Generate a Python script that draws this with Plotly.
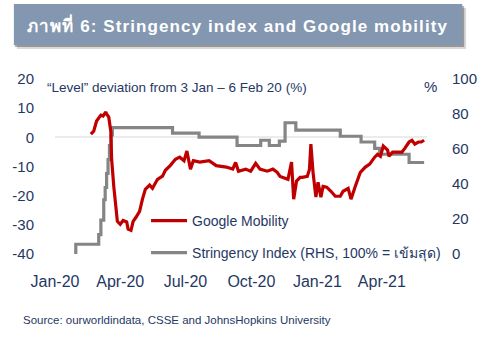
import plotly.graph_objects as go

# ---------------- data ----------------
mobility_dates = [
    "2020-02-20", "2020-02-24", "2020-02-28", "2020-03-05", "2020-03-08", "2020-03-12",
    "2020-03-13", "2020-03-16", "2020-03-19", "2020-03-20", "2020-03-23", "2020-03-26",
    "2020-03-28", "2020-04-01", "2020-04-05", "2020-04-10", "2020-04-12", "2020-04-16",
    "2020-04-19", "2020-04-23", "2020-04-28", "2020-05-02", "2020-05-06", "2020-05-12",
    "2020-05-16", "2020-05-23", "2020-05-30", "2020-06-03", "2020-06-10", "2020-06-17",
    "2020-06-23", "2020-06-29", "2020-07-03", "2020-07-08", "2020-07-12", "2020-07-21",
    "2020-08-03", "2020-08-13", "2020-08-27", "2020-09-05", "2020-09-09", "2020-09-13",
    "2020-09-23", "2020-09-30", "2020-10-07", "2020-10-13", "2020-10-23", "2020-10-31",
    "2020-11-06", "2020-11-10", "2020-11-14", "2020-11-21", "2020-11-26", "2020-11-29",
    "2020-12-03", "2020-12-08", "2020-12-11", "2020-12-18", "2020-12-21", "2020-12-23",
    "2020-12-26", "2020-12-30", "2021-01-02", "2021-01-06", "2021-01-09", "2021-01-14",
    "2021-01-20", "2021-01-26", "2021-02-02", "2021-02-06", "2021-02-13", "2021-02-17",
    "2021-02-23", "2021-03-02", "2021-03-09", "2021-03-15", "2021-03-22", "2021-03-26",
    "2021-03-30", "2021-04-03", "2021-04-09", "2021-04-11", "2021-04-16", "2021-04-22",
    "2021-04-29", "2021-05-03", "2021-05-09", "2021-05-13", "2021-05-17", "2021-05-22",
    "2021-05-26", "2021-05-30",
]
mobility_values = [
    1.1, 2.1, 5.6, 7.6, 7.3, 8.7,
    8.0, 6.9, 1.8, -7.5, -16.8, -24.7,
    -28.8, -29.8, -28.5, -29.0, -31.5, -31.9,
    -28.8, -27.4, -25.4, -21.2, -17.8, -16.4,
    -17.5, -14.4, -13.3, -11.3, -9.6, -7.5,
    -6.8, -8.0, -4.7, -10.9, -8.0, -8.5,
    -8.0, -9.7, -10.2, -10.9, -8.6, -11.6,
    -10.9, -11.6, -8.9, -10.9, -11.6, -10.9,
    -12.0, -13.4, -13.7, -14.4, -8.5, -21.2,
    -15.0, -13.7, -13.7, -13.4, -11.0, -2.3,
    -12.0, -20.5, -15.4, -20.5, -16.8, -17.1,
    -18.5, -20.2, -20.2, -18.5, -17.5, -21.2,
    -16.8, -12.0, -10.2, -9.2, -6.8, -5.8,
    -6.5, -3.0, -4.4, -6.5, -5.1, -5.1,
    -5.1, -3.8, -1.6, -1.0, -2.3, -1.6,
    -1.6, -1.0,
]

stringency_dates = [
    "2020-01-29", "2020-01-30", "2020-03-02", "2020-03-05", "2020-03-09", "2020-03-11",
    "2020-03-13", "2020-03-15", "2020-03-17", "2020-03-19", "2020-03-21", "2020-06-13",
    "2020-07-20", "2020-09-11", "2020-10-14", "2020-10-26", "2020-11-09", "2020-11-17",
    "2020-12-02", "2021-02-02", "2021-03-03", "2021-03-22", "2021-03-29", "2021-05-09",
    "2021-05-30",
]
stringency_values = [
    0.0, 5.56, 11.1, 19.4, 31.0, 38.0,
    46.0, 54.0, 62.0, 68.0, 72.2, 69.1,
    66.8, 62.0, 65.0, 62.0, 64.5, 75.0,
    70.8, 67.3, 64.0, 60.4, 57.0, 52.3,
    52.3,
]

left_tick_vals = [-40, -30, -20, -10, 0, 10, 20]
left_tick_text = ["-40", "-30", "-20", "-10", "0", "10", "20"]
right_tick_vals = [0, 20, 40, 60, 80, 100]

title_text = "ภาพที่ 6: Stringency index and Google mobility"
subtitle_text = "“Level” deviation from 3 Jan – 6 Feb 20 (%)"
source_text = "Source: ourworldindata, CSSE and JohnsHopkins University"
name_mobility = "Google Mobility"
name_stringency = "Stringency Index (RHS, 100% = เข้มสุด)"

# ---------------- figure ----------------
NAVY = "#1F3864"
FONT = "Liberation Sans, Arial, sans-serif"
W, H = 489, 357
ML, MR, MT, MB = 55, 54, 79, 103
PW, PH = W - ML - MR, H - MT - MB


def px(x):
    return (x - ML) / PW


def py(y):
    return (H - MB - y) / PH


fig = go.Figure()

fig.add_trace(go.Scatter(
    x=stringency_dates, y=stringency_values, name=name_stringency,
    mode="lines", line=dict(color="#858585", width=3.2, shape="hv"),
    yaxis="y", legend="legend2",
))
fig.add_trace(go.Scatter(
    x=mobility_dates, y=mobility_values, name=name_mobility,
    mode="lines", line=dict(color="#C00000", width=3.2),
    yaxis="y2", legend="legend",
))

shapes = [
    # title box shadow
    dict(type="rect", xref="paper", yref="paper",
         x0=px(16), x1=px(475), y0=py(49), y1=py(8),
         fillcolor="rgba(0,0,0,0.15)", line=dict(width=0), layer="below"),
    dict(type="rect", xref="paper", yref="paper",
         x0=px(14), x1=px(473), y0=py(47), y1=py(6),
         fillcolor="rgba(0,0,0,0.30)", line=dict(width=0), layer="below"),
    # title box
    dict(type="rect", xref="paper", yref="paper",
         x0=px(13), x1=px(471), y0=py(45), y1=py(4),
         fillcolor="#8497B0", line=dict(width=0), layer="below"),
]

annotations = [
    dict(text='<span style="letter-spacing:1.1px">' + title_text + "</span>",
         xref="paper", yref="paper", x=px(241), y=py(25),
         xanchor="center", yanchor="middle", showarrow=False,
         font=dict(family=FONT, size=17, color="white", weight="bold")),
    dict(text=subtitle_text, xref="paper", yref="paper", x=px(45), y=py(87),
         xanchor="left", yanchor="middle", showarrow=False,
         font=dict(family=FONT, size=13.5, color=NAVY)),
    dict(text="%", xref="paper", yref="paper", x=px(439), y=py(86),
         xanchor="center", yanchor="middle", showarrow=False,
         font=dict(family=FONT, size=15, color=NAVY)),
    dict(text=source_text, xref="paper", yref="paper", x=px(20), y=py(320),
         xanchor="left", yanchor="middle", showarrow=False,
         font=dict(family=FONT, size=11.5, color=NAVY)),
]

fig.update_layout(
    width=W, height=H,
    margin=dict(l=ML, r=MR, t=MT, b=MB),
    paper_bgcolor="white", plot_bgcolor="white",
    font=dict(family=FONT, size=15, color=NAVY),
    showlegend=True,
    legend=dict(x=px(148), y=py(221), xanchor="left", yanchor="middle", itemwidth=36,
                bgcolor="rgba(0,0,0,0)", font=dict(size=14, color=NAVY, family=FONT)),
    legend2=dict(x=px(148), y=py(253), xanchor="left", yanchor="middle", itemwidth=36,
                 bgcolor="rgba(0,0,0,0)", font=dict(size=14, color=NAVY, family=FONT)),
    xaxis=dict(type="date", range=["2020-01-01", "2021-06-03"],
               tick0="2020-01-01", dtick="M3", tickformat="%b-%y",
               showgrid=False, zeroline=False, showline=False, ticks="",
               ticklabelstandoff=16, tickfont=dict(size=16, color=NAVY)),
    yaxis=dict(side="right", range=[0, 100], tickvals=right_tick_vals,
               showgrid=False, zeroline=False, showline=False, ticks="",
               ticklabelstandoff=24, tickfont=dict(size=15, color=NAVY)),
    yaxis2=dict(side="left", overlaying="y", range=[-40, 20],
                tickvals=left_tick_vals, ticktext=left_tick_text,
                showgrid=False, zeroline=True, zerolinecolor="#EBEBEB", zerolinewidth=2,
                showline=False, ticks="", ticklabelstandoff=20,
                tickfont=dict(size=15, color=NAVY)),
    shapes=shapes,
    annotations=annotations,
)

fig.write_html("out.html", config={"displayModeBar": False},
               post_script="document.body.style.margin='0';")
